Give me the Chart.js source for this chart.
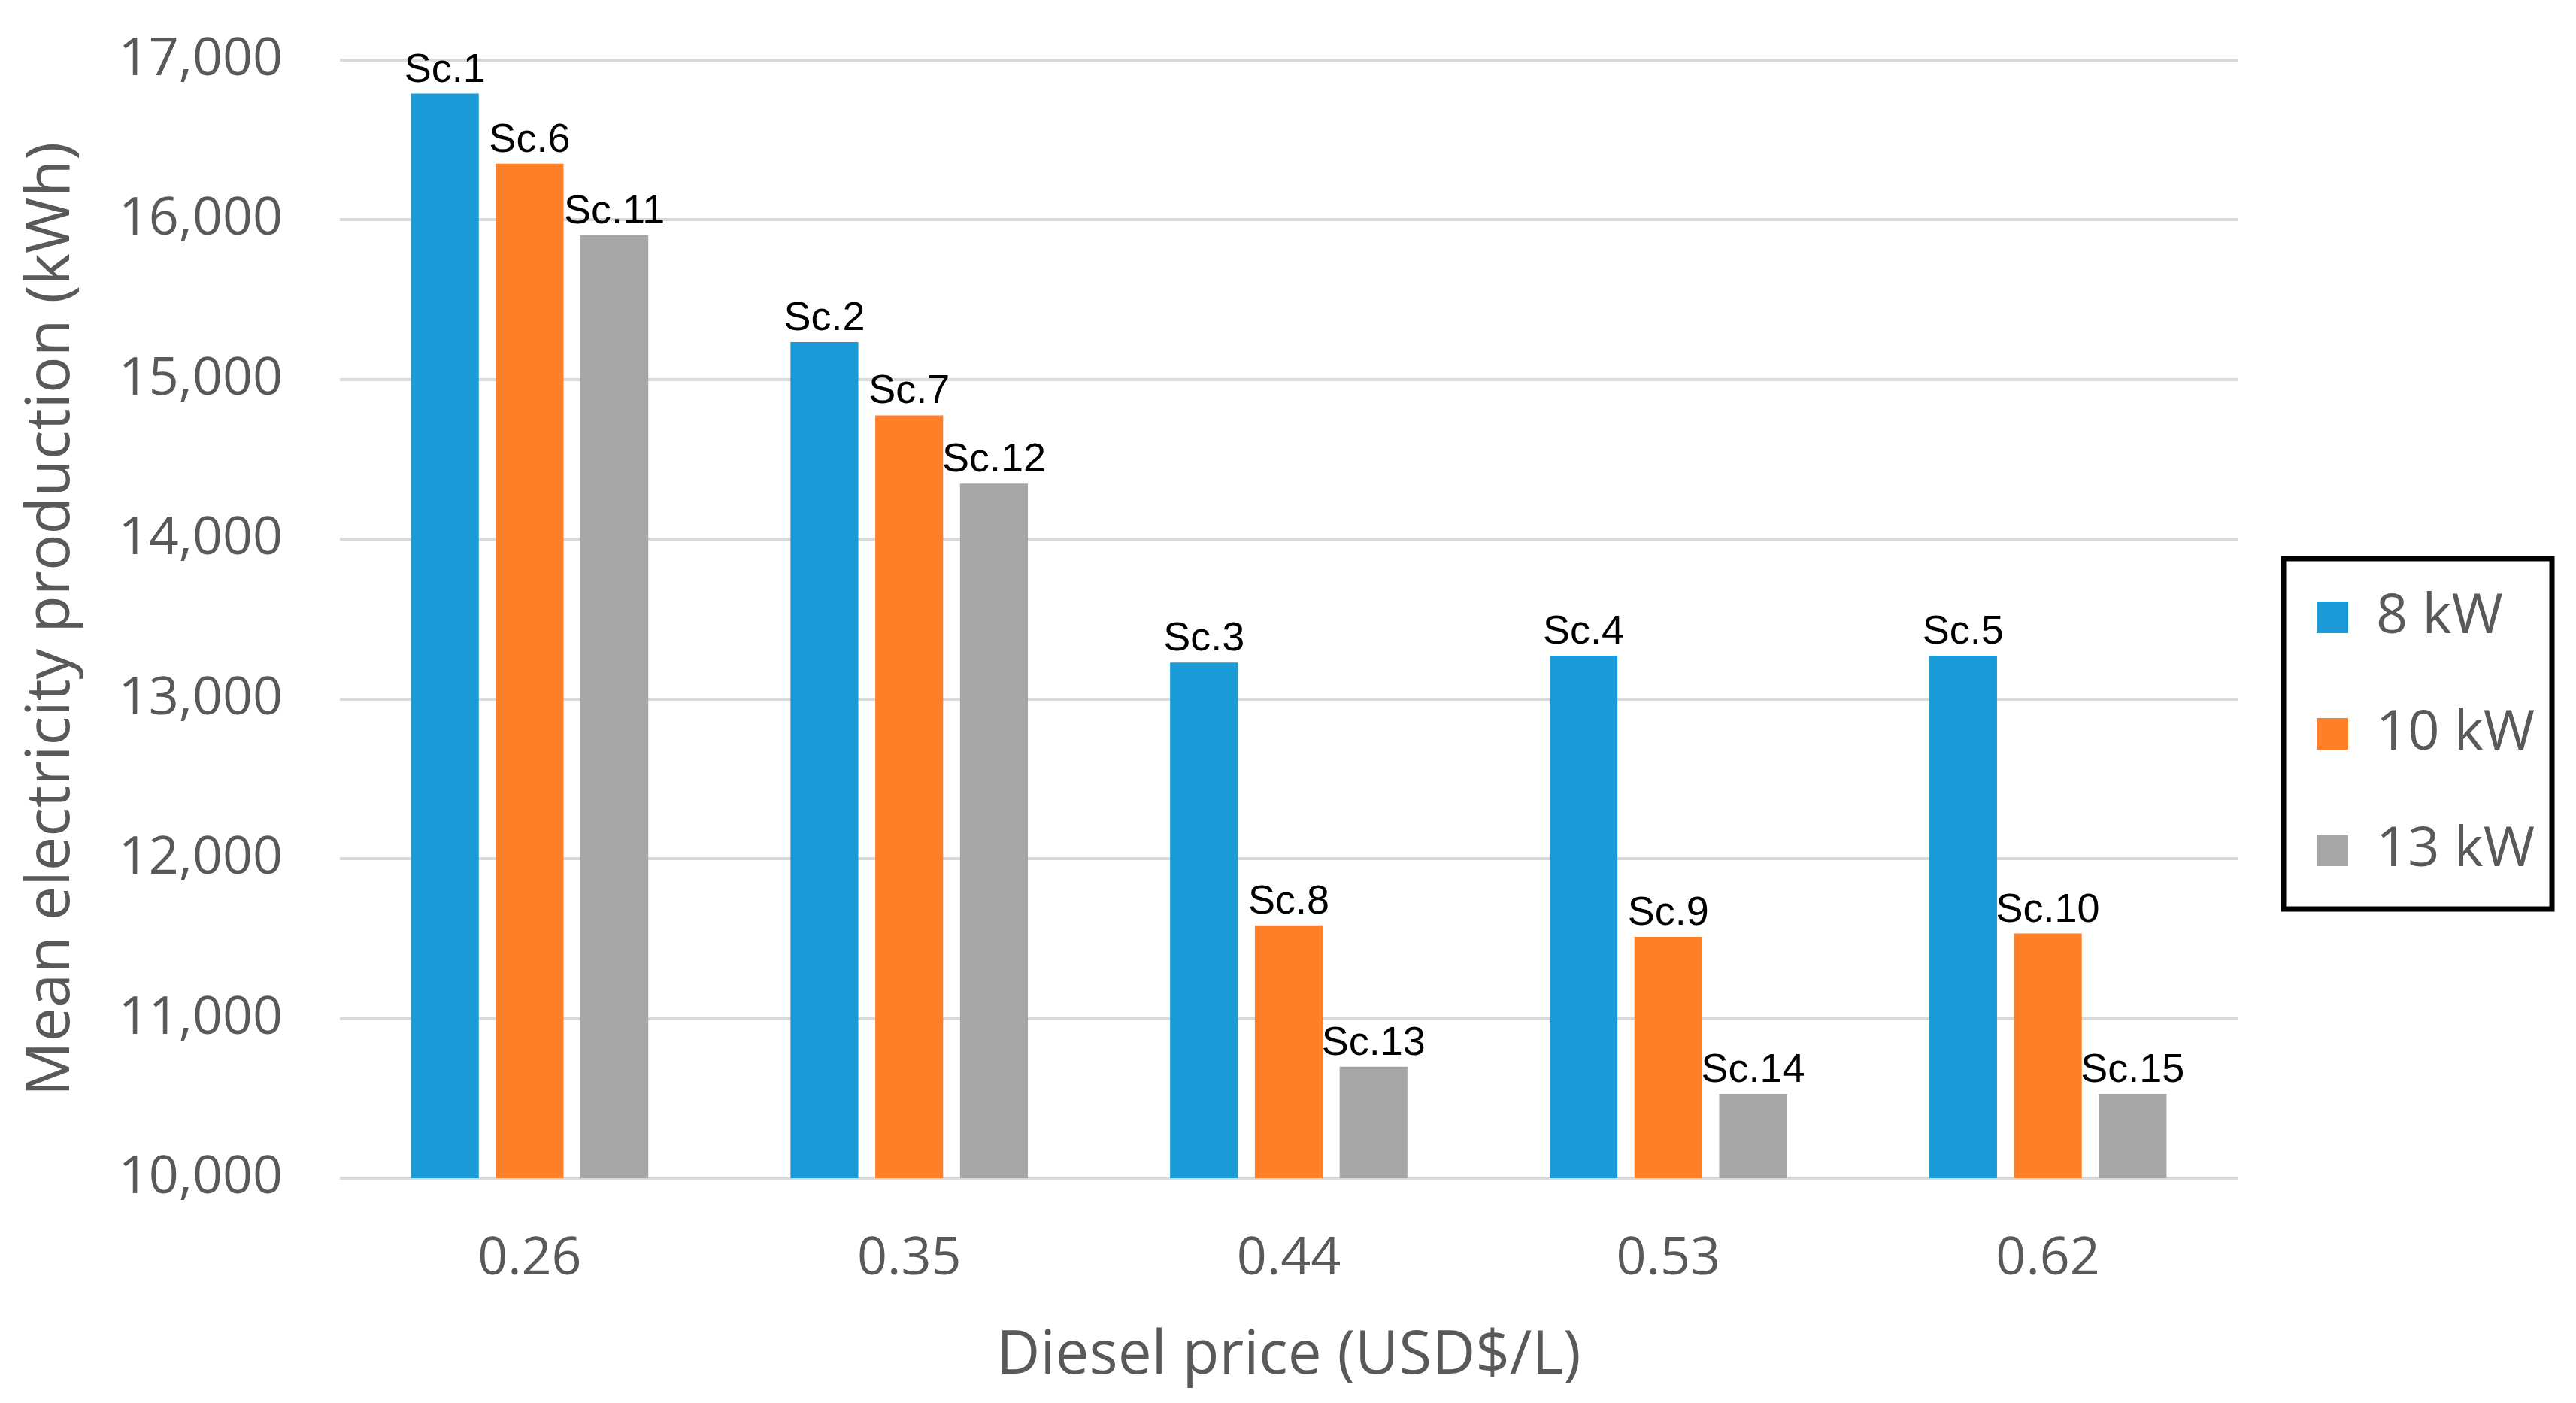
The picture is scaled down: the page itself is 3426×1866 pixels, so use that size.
<!DOCTYPE html>
<html>
<head>
<meta charset="utf-8">
<script src="https://cdn.jsdelivr.net/npm/chart.js@4.4.1/dist/chart.umd.min.js"></script>
<style>
  html, body { margin: 0; padding: 0; background: #ffffff; }
  #wrap { width: 3426px; height: 1866px; position: relative; }
</style>
</head>
<body>
<div id="wrap"><canvas id="c" width="3426" height="1866"></canvas></div>
<script>
// ---- data ----
const categories = ['0.26', '0.35', '0.44', '0.53', '0.62'];
const seriesNames = ['8 kW', '10 kW', '13 kW'];
const values8kW  = [16790, 15235, 13228, 13272, 13272];
const values10kW = [16352, 14776, 11583, 11511, 11532];
const values13kW = [15903, 14348, 10698, 10527, 10527];
const labels8kW  = ['Sc.1', 'Sc.2', 'Sc.3', 'Sc.4', 'Sc.5'];
const labels10kW = ['Sc.6', 'Sc.7', 'Sc.8', 'Sc.9', 'Sc.10'];
const labels13kW = ['Sc.11', 'Sc.12', 'Sc.13', 'Sc.14', 'Sc.15'];
const yTicks = [10000, 11000, 12000, 13000, 14000, 15000, 16000, 17000];

const colors = ['#1a9ad6', '#fe7f27', '#a6a6a6'];
const GREY_TEXT = '#595959';
const FONT = "'Open Sans', 'Noto Sans', sans-serif";

const barLabels = [labels8kW, labels10kW, labels13kW];

// data labels drawn at bar tops via the library's element positions
const barLabelPlugin = {
  id: 'barLabels',
  afterDatasetsDraw(chart) {
    const ctx = chart.ctx;
    ctx.save();
    ctx.font = "54px 'Liberation Sans', Arial, sans-serif";
    ctx.fillStyle = '#000000';
    ctx.textAlign = 'center';
    ctx.textBaseline = 'alphabetic';
    chart.data.datasets.forEach((ds, di) => {
      const meta = chart.getDatasetMeta(di);
      meta.data.forEach((el, i) => {
        ctx.fillText(barLabels[di][i], el.x, el.y - 16);
      });
    });
    ctx.restore();
  }
};

// fixed legend placement + framed box
const LEGEND_W = 450;          // space reserved right of plot
const LEGEND_ITEM_X = 3081;    // left of colour square
const LEGEND_FIRST_TOP = 784;  // top of first item
const legendPlacePlugin = {
  id: 'legendPlace',
  beforeUpdate(chart) {
    const lg = chart.legend;
    if (lg && !lg._fixedFit) {
      const orig = lg.fit;
      lg.fit = function () {
        orig.call(this);
        this.width = LEGEND_W;
      };
      lg._fixedFit = true;
    }
  },
  afterLayout(chart) {
    const lg = chart.legend;
    if (!lg) return;
    const pad = lg.options.labels.padding;
    const newLeft = LEGEND_ITEM_X - pad;
    const dx = newLeft - lg.left;
    lg.left += dx; lg.right += dx;
    const colH = lg.columnSizes && lg.columnSizes[0] ? lg.columnSizes[0].height : 0;
    const curTop = (lg.top + pad + lg.bottom - colH) / 2;
    const dy = LEGEND_FIRST_TOP - curTop;
    lg.top += dy; lg.bottom += dy;
  },
  afterDraw(chart) {
    const lg = chart.legend;
    if (!lg) return;
    const ctx = chart.ctx;
    const pad = lg.options.labels.padding;
    const fs = lg.options.labels.font.size;
    const n = chart.data.datasets.length;
    const firstCenter = LEGEND_FIRST_TOP + fs / 2;
    const lastCenter = firstCenter + (n - 1) * (fs + pad);
    const x0 = LEGEND_ITEM_X - 44;
    const x1 = 3394;
    const y0 = firstCenter - 78;
    const y1 = lastCenter + 78;
    ctx.save();
    ctx.strokeStyle = '#000000';
    ctx.lineWidth = 7;
    ctx.strokeRect(x0, y0, x1 - x0, y1 - y0);
    ctx.restore();
  }
};

const datasetValues = [values8kW, values10kW, values13kW];

new Chart(document.getElementById('c'), {
  type: 'bar',
  data: {
    labels: categories,
    datasets: seriesNames.map((name, i) => ({
      label: name,
      data: datasetValues[i],
      backgroundColor: colors[i],
      borderWidth: 0,
      categoryPercentage: 0.67,
      barPercentage: 0.8
    }))
  },
  plugins: [barLabelPlugin, legendPlacePlugin],
  options: {
    responsive: false,
    animation: false,
    devicePixelRatio: 1,
    layout: { padding: { top: 80, right: 0, bottom: 0, left: 0 } },
    plugins: {
      tooltip: { enabled: false },
      title: { display: false },
      legend: {
        display: true,
        position: 'right',
        labels: {
          boxWidth: 42,
          boxHeight: 42,
          padding: 81,
          color: GREY_TEXT,
          font: { family: FONT, size: 74 }
        }
      }
    },
    scales: {
      x: {
        grid: { display: false, drawTicks: false },
        border: { display: false },
        ticks: {
          color: GREY_TEXT,
          padding: 66,
          font: { family: FONT, size: 70 }
        },
        title: {
          display: true,
          text: 'Diesel price (USD$/L)',
          color: GREY_TEXT,
          font: { family: FONT, size: 80 },
          padding: { top: 0, bottom: 14 }
        },
        afterFit(scale) { scale.height = 1866 - 1567; }
      },
      y: {
        min: 10000,
        max: 17000,
        afterBuildTicks(scale) { scale.ticks = yTicks.map(v => ({ value: v })); },
        grid: {
          color: '#d9d9d9',
          lineWidth: 4,
          drawTicks: true,
          tickLength: 76,
          tickColor: 'rgba(0,0,0,0)'
        },
        border: { display: false },
        ticks: {
          color: GREY_TEXT,
          padding: 0,
          font: { family: FONT, size: 70 },
          callback: (v) => Number(v).toLocaleString('en-US')
        },
        title: {
          display: true,
          text: 'Mean electricity production (kWh)',
          color: GREY_TEXT,
          font: { family: FONT, size: 81 },
          padding: { top: 20, bottom: 0 }
        },
        afterFit(scale) { scale.width = 452; }
      }
    }
  }
});
</script>
</body>
</html>
